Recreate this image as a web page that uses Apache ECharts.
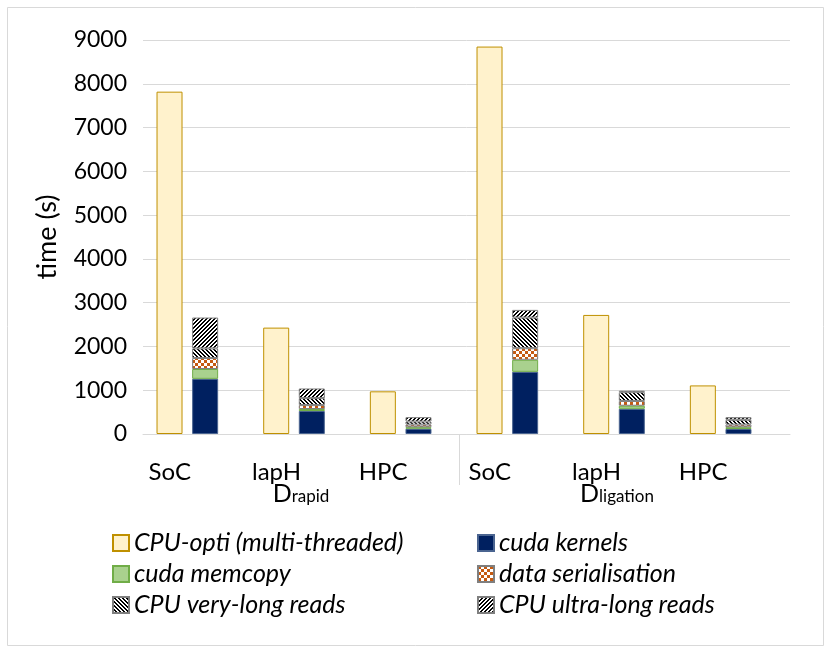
<!DOCTYPE html>
<html><head><meta charset="utf-8">
<script src="https://cdn.jsdelivr.net/npm/echarts@6/dist/echarts.min.js"></script>
<style>html,body{margin:0;padding:0;background:#fff}#c{width:831px;height:653px}</style>
</head><body><div id="c"></div>
<script>
// ---- data ----
const categories = ['SoC', 'lapH', 'HPC', 'SoC', 'lapH', 'HPC'];
const groupSubs = ['rapid', 'ligation'];
const yMin = 0, yMax = 9000, yStep = 1000;
const cpuOpti       = [7820, 2430, 975, 8850, 2720, 1110];
const cudaKernels   = [1260, 525, 120, 1420, 575, 115];
const cudaMemcopy   = [225, 45, 35, 275, 70, 40];
const dataSerial    = [250, 90, 60, 265, 110, 60];
const cpuVeryLong   = [220, 160, 70, 700, 200, 110];
const cpuUltraLong  = [705, 220, 100, 175, 35, 60];

// ---- patterns ----
function pattern(fn, size, fg, bg) {
  const c = document.createElement('canvas');
  c.width = c.height = size;
  const ctx = c.getContext('2d');
  ctx.fillStyle = bg; ctx.fillRect(0, 0, size, size);
  ctx.fillStyle = fg;
  for (let x = 0; x < size; x++) for (let y = 0; y < size; y++) if (fn(x, y)) ctx.fillRect(x, y, 1, 1);
  return { image: c, repeat: 'repeat' };
}
const ultraPat = pattern((x, y) => ((x + y) % 4) < 2, 4, '#000', '#fff');
const veryPat  = pattern((x, y) => ((((x - y) % 4) + 4) % 4) < 2, 4, '#000', '#fff');
const checkPat = pattern((x, y) => ((Math.floor(x / 3) + Math.floor(y / 3)) % 2) === 0, 6, '#c55a11', '#fff');

const FONT = 'Lato';
const chart = echarts.init(document.getElementById('c'), null, { renderer: 'canvas' });

function stackSeries(name, data, color, border) {
  return {
    name, type: 'bar', stack: 'gpu', data, xAxisIndex: 1, yAxisIndex: 1,
    barWidth: 26, barGap: '37%',
    itemStyle: { color, borderColor: border, borderWidth: 1 }
  };
}

const legendText = { fontSize: 25, lineHeight: 26, fontStyle: 'italic', fontFamily: FONT, color: '#000' };

const option = {
  animation: false,
  backgroundColor: '#fff',
  graphic: [{
    type: 'rect', shape: { x: 7.5, y: 7.5, width: 816, height: 638 },
    style: { fill: 'none', stroke: '#d9d9d9', lineWidth: 1 }, silent: true
  }],
  grid: [
    { left: 143, right: 41, top: 40, bottom: 219 },
    { left: 134, right: 57, top: 40, bottom: 219 },
    { left: 143, right: 56, top: 434, bottom: 168 }
  ],
  xAxis: [
    { gridIndex: 0, type: 'value', min: 0, max: 1,
      axisLine: { show: true, lineStyle: { color: '#d9d9d9', width: 1 } },
      axisTick: { show: false }, axisLabel: { show: false }, splitLine: { show: false } },
    { gridIndex: 1, type: 'category', data: categories,
      axisLine: { show: false }, axisTick: { show: false },
      axisLabel: { fontSize: 24, color: '#000', fontFamily: FONT, margin: 26, padding: [0, 35, 0, 0] } },
    { gridIndex: 2, type: 'category', data: groupSubs, position: 'bottom',
      axisLine: { show: false }, axisTick: { show: false },
      splitLine: { show: true, showMinLine: false, showMaxLine: false, lineStyle: { color: '#d9d9d9', width: 1 } },
      axisLabel: {
        margin: -4,
        formatter: v => '{d|D}{s|' + v + '}',
        rich: {
          d: { fontSize: 25, fontFamily: FONT, color: '#000', verticalAlign: 'bottom' },
          s: { fontSize: 17, fontFamily: FONT, color: '#000', verticalAlign: 'bottom', padding: [0, 0, 1, 0] }
        }
      } }
  ],
  yAxis: [
    { gridIndex: 0, type: 'value', min: yMin, max: yMax, interval: yStep,
      axisLine: { show: false }, axisTick: { show: false },
      splitLine: { lineStyle: { color: '#d9d9d9', width: 1 } },
      axisLabel: { fontSize: 23, color: '#000', fontFamily: FONT, margin: 16, formatter: v => String(v) },
      name: 'time (s)', nameLocation: 'middle', nameGap: 82, nameRotate: 90,
      nameTextStyle: { fontSize: 27, color: '#000', fontFamily: FONT } },
    { gridIndex: 1, type: 'value', min: yMin, max: yMax, interval: yStep, show: false, splitLine: { show: false } },
    { gridIndex: 2, type: 'value', show: false, splitLine: { show: false } }
  ],
  legend: [
    { left: 107, top: 525, orient: 'vertical', itemWidth: 16, itemHeight: 16, itemGap: 5, selectedMode: false,
      icon: 'rect',
      data: ['CPU-opti (multi-threaded)', 'cuda memcopy', 'CPU very-long reads'],
      textStyle: legendText },
    { left: 472, top: 525, orient: 'vertical', itemWidth: 16, itemHeight: 16, itemGap: 5, selectedMode: false,
      icon: 'rect',
      data: ['cuda kernels', 'data serialisation', 'CPU ultra-long reads'],
      textStyle: legendText }
  ],
  series: [
    { name: 'CPU-opti (multi-threaded)', type: 'bar', data: cpuOpti, xAxisIndex: 1, yAxisIndex: 1,
      barWidth: 26, barGap: '37%',
      itemStyle: { color: '#fff2cc', borderColor: '#bf9000', borderWidth: 1 } },
    stackSeries('cuda kernels', cudaKernels, '#002060', '#4a6490'),
    stackSeries('cuda memcopy', cudaMemcopy, '#a9d18e', '#70ad47'),
    stackSeries('data serialisation', dataSerial, checkPat, '#7f7f7f'),
    stackSeries('CPU very-long reads', cpuVeryLong, veryPat, '#7f7f7f'),
    stackSeries('CPU ultra-long reads', cpuUltraLong, ultraPat, '#7f7f7f')
  ]
};
chart.setOption(option);
</script>
</body></html>
